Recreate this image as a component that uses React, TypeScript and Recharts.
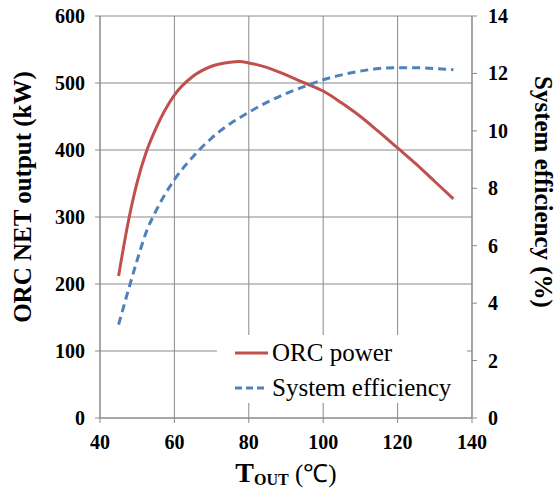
import React from "react";
import {
  LineChart,
  Line,
  XAxis,
  YAxis,
  CartesianGrid,
  Legend,
} from "recharts";

// outlet temperature (deg C)
const tempOut = [45, 47.5, 50, 52.5, 55, 60, 65, 70, 75, 77.5, 80, 85, 90, 95, 100, 105, 110, 115, 120, 125, 130, 135];
// ORC net power (kW)
const orcPower = [212, 290, 352, 398, 432, 482, 510, 525, 531, 532, 530, 523, 512, 500, 488, 470, 450, 427, 403, 379, 353, 327];
// system efficiency (%)
const sysEfficiency = [3.25, 4.4, 5.5, 6.5, 7.2, 8.3, 9.1, 9.75, 10.25, 10.45, 10.65, 11.0, 11.3, 11.55, 11.78, 11.95, 12.08, 12.17, 12.2, 12.2, 12.17, 12.13];

const xTicks = [40, 60, 80, 100, 120, 140];
const powerTicks = [0, 100, 200, 300, 400, 500, 600];
const effTicks = [0, 2, 4, 6, 8, 10, 12, 14];

const data = tempOut.map((t, i) => ({
  t,
  power: orcPower[i],
  eff: sysEfficiency[i],
}));

const SERIF = "Liberation Serif, Times New Roman, serif";
const AXIS = "#898989";
const RED = "#C0504D";
const BLUE = "#4F81BD";

const makeTick = (anchor: "start" | "middle" | "end", dx: number, dy: number) => (props: any) => {
  const { x, y, payload } = props;
  return (
    <text
      x={x + dx}
      y={y + dy}
      textAnchor={anchor}
      fontFamily={SERIF}
      fontWeight={700}
      fontSize={20}
      fill="#000"
    >
      {payload.value}
    </text>
  );
};

const LeftTick = makeTick("end", 0, 7);
const RightTick = makeTick("start", 1, 7);
const BottomTick = makeTick("middle", 0, 22);

const LeftTitle = (props: any) => {
  const { viewBox } = props;
  const x = viewBox.x + 22;
  const y = viewBox.y + 181;
  return (
    <text
      x={x}
      y={y}
      transform={`rotate(-90, ${x}, ${y})`}
      textAnchor="middle"
      dominantBaseline="central"
      fontFamily={SERIF}
      fontWeight={700}
      fontSize={25}
      fill="#000"
    >
      ORC NET output (kW)
    </text>
  );
};

const RightTitle = (props: any) => {
  const { viewBox } = props;
  const x = viewBox.x + 71;
  const y = viewBox.y + 176;
  return (
    <text
      x={x}
      y={y}
      transform={`rotate(90, ${x}, ${y})`}
      textAnchor="middle"
      dominantBaseline="central"
      fontFamily={SERIF}
      fontWeight={700}
      fontSize={25}
      fill="#000"
    >
      System efficiency (%)
    </text>
  );
};

const BottomTitle = (props: any) => {
  const { viewBox } = props;
  const x = viewBox.x + viewBox.width / 2;
  const y = viewBox.y + 64;
  return (
    <text x={x} y={y} textAnchor="middle" fontFamily={SERIF} fill="#000">
      <tspan fontSize={28} fontWeight={700}>T</tspan>
      <tspan fontSize={16} fontWeight={700} dy={3}>OUT</tspan>
      <tspan fontSize={25} dy={-3}> (℃)</tspan>
    </text>
  );
};

const LegendBox = () => {
  const items = [
    { name: "ORC power", color: RED, dash: undefined },
    { name: "System efficiency", color: BLUE, dash: "7 4" },
  ];
  return (
    <div style={{ background: "#fff", height: 68, padding: "0 0 0 18px", boxSizing: "border-box", fontFamily: SERIF, fontSize: 25, color: "#000" }}>
      {items.map((it) => (
        <div key={it.name} style={{ display: "flex", alignItems: "center", height: 35, lineHeight: "35px" }}>
          <svg width={34} height={6} style={{ marginRight: 3 }}>
            <line x1={0} y1={3} x2={33} y2={3} stroke={it.color} strokeWidth={3} strokeDasharray={it.dash} />
          </svg>
          <span>{it.name}</span>
        </div>
      ))}
    </div>
  );
};

export default function App() {
  return (
    <div style={{ position: "absolute", left: 0, top: 0 }}>
      <LineChart
        width={555}
        height={488}
        data={data}
        margin={{ top: 16, right: 0, bottom: 0, left: 0 }}
      >
        <CartesianGrid stroke={AXIS} strokeWidth={1} />
        <XAxis
          dataKey="t"
          type="number"
          domain={[40, 140]}
          ticks={xTicks}
          height={70}
          tickSize={5}
          tickMargin={4}
          stroke={AXIS}
          tick={BottomTick}
          label={{ content: BottomTitle }}
        />
        <YAxis
          domain={[0, 600]}
          ticks={powerTicks}
          width={100}
          tickSize={5}
          tickMargin={10}
          stroke={AXIS}
          tick={LeftTick}
          label={{ content: LeftTitle }}
        />
        <YAxis
          yAxisId="right"
          orientation="right"
          domain={[0, 14]}
          ticks={effTicks}
          width={83}
          tickSize={5}
          tickMargin={10}
          stroke={AXIS}
          tick={RightTick}
          label={{ content: RightTitle }}
        />
        <Legend
          layout="horizontal"
          verticalAlign="middle"
          align="center"
          content={LegendBox}
          wrapperStyle={{ left: 217, top: 335, width: 250, height: 68 }}
        />
        <Line
          type="monotone"
          dataKey="power"
          stroke={RED}
          strokeWidth={3}
          dot={false}
          isAnimationActive={false}
        />
        <Line
          type="monotone"
          dataKey="eff"
          yAxisId="right"
          stroke={BLUE}
          strokeWidth={3}
          strokeDasharray="8 5"
          dot={false}
          isAnimationActive={false}
        />
      </LineChart>
    </div>
  );
}
